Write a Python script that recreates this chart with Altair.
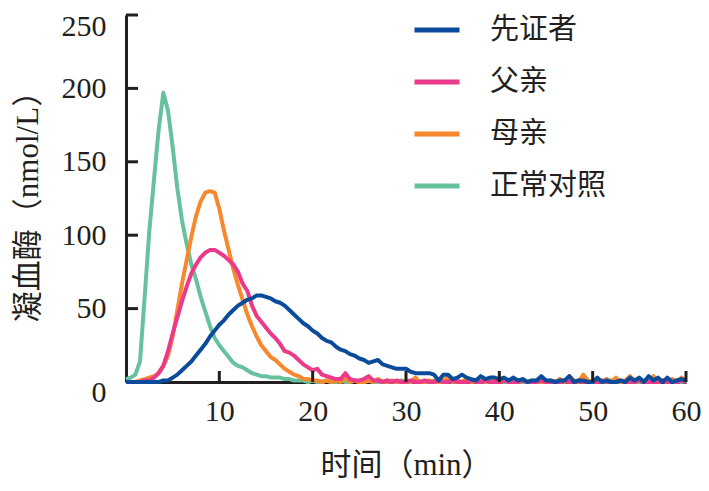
import altair as alt
import pandas as pd

TIME = [0, 0.5, 1, 1.5, 2, 2.5, 3, 3.5, 4, 4.5, 5, 5.5, 6, 6.5, 7, 7.5, 8, 8.5, 9, 9.5,
        10, 10.5, 11, 11.5, 12, 12.5, 13, 13.5, 14, 14.5, 15, 15.5, 16, 16.5, 17, 17.5, 18, 18.5, 19, 19.5,
        20, 20.5, 21, 21.5, 22, 22.5, 23, 23.5, 24, 24.5, 25, 25.5, 26, 26.5, 27, 27.5, 28, 28.5, 29, 29.5,
        30, 30.5, 31, 31.5, 32, 32.5, 33, 33.5, 34, 34.5, 35, 35.5, 36, 36.5, 37, 37.5, 38, 38.5, 39, 39.5,
        40, 40.5, 41, 41.5, 42, 42.5, 43, 43.5, 44, 44.5, 45, 45.5, 46, 46.5, 47, 47.5, 48, 48.5, 49, 49.5,
        50, 50.5, 51, 51.5, 52, 52.5, 53, 53.5, 54, 54.5, 55, 55.5, 56, 56.5, 57, 57.5, 58, 58.5, 59, 59.5, 60]

CONTROL = [2, 3, 5, 14, 58, 103, 138, 172, 197, 185, 160, 132, 110, 94, 80, 70, 58, 48, 38, 30,
           25, 21, 17, 13, 11, 10, 8, 6, 5, 4, 4, 3, 3, 3, 2, 2, 1, 1, 1, 0,
           1, 0, 0, 1, 0, 0, 1, 0, 0, 1, 0, 0, 1, 0, 0, 0, 1, 0, 0, 1,
           0, 0, 1, 0, 0, 0, 1, 0, 0, 1, 0, 0, 0, 1, 0, 0, 1, 0, 0, 0,
           1, 0, 0, 1, 0, 0, 0, 1, 0, 0, 1, 0, 0, 0, 1, 0, 0, 1, 0, 0,
           0, 1, 0, 0, 1, 0, 0, 0, 1, 0, 0, 1, 0, 0, 0, 1, 0, 0, 1, 0, 1]

MOTHER = [0, 0, 0, 1, 2, 3, 4, 6, 11, 18, 31, 49, 67, 83, 99, 113, 123, 129, 130, 129,
          118, 103, 90, 77, 66, 56, 46, 38, 31, 25, 21, 17, 15, 12, 9, 7, 5, 4, 2, 2,
          1, 1, 0, 1, 0, 1, 0, 3, 0, 1, 0, 0, 1, 0, 2, 0, 0, 1, 0, 0,
          1, 0, 3, 0, 0, 1, 0, 0, 1, 3, 0, 1, 0, 2, 0, 0, 1, 0, 2, 0,
          0, 1, 0, 3, 0, 1, 0, 0, 1, 0, 0, 1, 0, 2, 0, 4, 1, 0, 5, 1,
          0, 1, 0, 2, 0, 3, 0, 1, 4, 0, 1, 0, 0, 4, 0, 1, 0, 2, 0, 3, 1]

FATHER = [0, 0, 0, 0, 1, 1, 3, 6, 11, 21, 33, 44, 55, 65, 74, 80, 85, 88, 90, 90,
          88, 86, 83, 80, 75, 67, 62, 52, 45, 41, 37, 33, 30, 26, 21, 20, 18, 15, 12, 10,
          8, 9, 5, 4, 3, 2, 2, 6, 2, 1, 1, 2, 4, 1, 1, 0, 1, 0, 1, 0,
          0, 1, 0, 0, 1, 0, 0, 1, 0, 0, 1, 0, 0, 0, 1, 0, 0, 1, 0, 0,
          0, 1, 0, 0, 0, 1, 0, 0, 0, 1, 0, 0, 0, 0, 1, 0, 0, 1, 0, 0,
          0, 0, 1, 0, 0, 0, 1, 0, 0, 0, 1, 0, 0, 0, 0, 1, 0, 0, 0, 1, 0]

PROBAND = [0, 0, 0, 0, 0, 0, 0, 0, 1, 1, 3, 5, 8, 11, 14, 18, 22, 26, 31, 35,
           39, 42, 46, 49, 52, 54, 56, 57, 59, 59, 58, 57, 55, 54, 52, 49, 46, 43, 40, 38,
           35, 33, 30, 28, 27, 24, 22, 21, 19, 18, 16, 15, 13, 14, 15, 12, 11, 10, 9, 9,
           9, 7, 6, 6, 6, 6, 5, 1, 5, 5, 2, 3, 5, 3, 2, 1, 4, 2, 3, 3,
           2, 3, 1, 3, 1, 2, 0, 1, 1, 4, 1, 1, 0, 1, 1, 4, 0, 1, 1, 0,
           0, 3, 0, 1, 0, 0, 1, 0, 3, 1, 3, 0, 4, 1, 3, 0, 3, 0, 1, 2, 1]

SERIES_NAMES = ["先证者", "父亲", "母亲", "正常对照"]
SERIES_COLORS = ["#0b4b9b", "#ec3a8a", "#f7882d", "#66c29d"]
X_TICKS = [10, 20, 30, 40, 50, 60]
Y_TICKS = [0, 50, 100, 150, 200, 250]
Y_INNER_TICKS = [50, 100, 150, 200, 250]

rows = []
for name, vals in [("正常对照", CONTROL), ("母亲", MOTHER), ("父亲", FATHER), ("先证者", PROBAND)]:
    for t, v in zip(TIME, vals):
        rows.append({"t": t, "v": v, "s": name})
df = pd.DataFrame(rows)

FONT = "Liberation Serif, Noto Sans CJK SC"
INK = "#231f20"
W, H = 560, 367
PAD_L, PAD_T, PAD_R = 118, 7, 15
PAD_B = 475 - PAD_T - H

xscale = alt.Scale(domain=[0, 60], nice=False)
yscale = alt.Scale(domain=[0, 250], nice=False)

xaxis = alt.Axis(title="时间（min）", values=X_TICKS, ticks=False, grid=False,
                 labelPadding=14, titlePadding=24, labelFlush=False)
yaxis = alt.Axis(title="凝血酶（nmol/L）", values=Y_TICKS, ticks=False, grid=False,
                 labelPadding=20, titlePadding=17, labelFlush=False,
                 labelOffset={"condition": [{"test": "datum.value === 0", "value": 10},
                                            {"test": "datum.value === 250", "value": 11}],
                              "value": 0})

lines = alt.Chart(df).mark_line(strokeWidth=4, strokeJoin="round").encode(
    x=alt.X("t:Q", scale=xscale, axis=xaxis),
    y=alt.Y("v:Q", scale=yscale, axis=yaxis),
    color=alt.Color("s:N", scale=alt.Scale(domain=SERIES_NAMES, range=SERIES_COLORS),
                    legend=alt.Legend(title=None, orient="none", legendX=286, legendY=-10,
                                      symbolType="stroke", symbolSize=2025,
                                      symbolStrokeWidth=5, labelFontSize=29,
                                      labelFont=FONT, labelColor=INK, labelOffset=28,
                                      rowPadding=12, padding=0)),
    detail="s:N",
)

ytick_df = pd.DataFrame({"v": Y_INNER_TICKS})
yticks = alt.Chart(ytick_df).mark_rule(color=INK, strokeWidth=3).encode(
    y=alt.Y("v:Q", scale=yscale, axis=yaxis),
    x=alt.value(0), x2=alt.value(12),
)

xtick_df = pd.DataFrame({"t": X_TICKS})
xticks = alt.Chart(xtick_df).mark_rule(color=INK, strokeWidth=3).encode(
    x=alt.X("t:Q", scale=xscale, axis=xaxis),
    y=alt.value(H), y2=alt.value(H - 11),
)

chart = alt.layer(lines, yticks, xticks).properties(
    width=W, height=H,
    autosize=alt.AutoSizeParams(type="none"),
    padding={"left": PAD_L, "top": PAD_T, "right": PAD_R, "bottom": PAD_B},
).configure_view(stroke=None).configure_axis(
    grid=False, domainColor=INK, domainWidth=3,
    labelFont=FONT, labelFontSize=30, labelColor=INK,
    titleFont=FONT, titleFontSize=31, titleColor=INK, titleFontWeight="normal",
).configure_axisY(labelBaseline="middle")

chart.save("out.html", embed_options={"renderer": "svg", "actions": False})
